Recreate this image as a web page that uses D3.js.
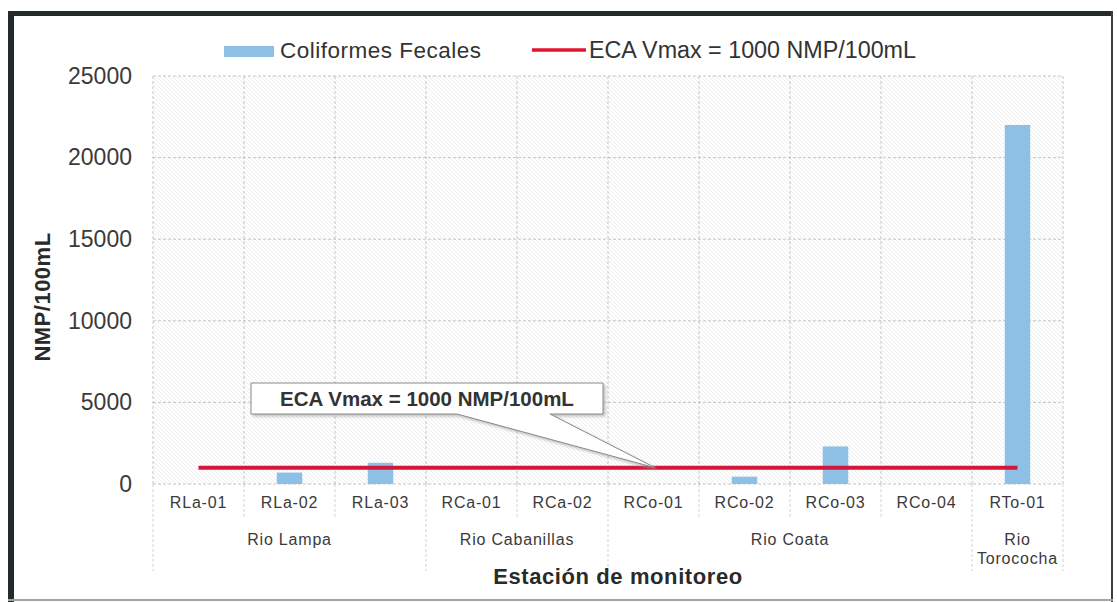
<!DOCTYPE html>
<html>
<head>
<meta charset="utf-8">
<script src="https://cdn.jsdelivr.net/npm/d3@7"></script>
<style>
  body { margin: 0; background: #fff; }
  svg text { font-family: "Liberation Sans", Arial, sans-serif; }
</style>
</head>
<body>
<div id="d3-container"></div>
<script>
// data
const stations = ["RLa-01", "RLa-02", "RLa-03", "RCa-01", "RCa-02", "RCo-01", "RCo-02", "RCo-03", "RCo-04", "RTo-01"];
const rivers = ["Rio Lampa", "Rio Lampa", "Rio Lampa", "Rio Cabanillas", "Rio Cabanillas", "Rio Coata", "Rio Coata", "Rio Coata", "Rio Coata", "Rio Torococha"];
const coliformes = [0, 700, 1300, 0, 0, 0, 450, 2300, 0, 22000];
const ecaLimit = 1000;
const yTicks = [0, 5000, 10000, 15000, 20000, 25000];

const data = stations.map((s, i) => ({ station: s, river: rivers[i], value: coliformes[i] }));

const width = 1117,
    height = 602,
    margin = { top: 76, bottom: 118, left: 153, right: 54 };

const xScale = d3
    .scaleBand()
    .domain(stations)
    .range([margin.left, width - margin.right])
    .padding(0);

const yScale = d3
    .scaleLinear()
    .domain([0, 25000])
    .range([height - margin.bottom, margin.top]);

const svg = d3
    .select("#d3-container")
    .append("svg")
    .attr("width", width)
    .attr("height", height);

// hatch pattern for the plot area
const defs = svg.append("defs");
const pat = defs.append("pattern")
    .attr("id", "hatch")
    .attr("patternUnits", "userSpaceOnUse")
    .attr("width", 4)
    .attr("height", 4);
pat.append("path")
    .attr("d", "M0,0 L4,4 M-1,3 L1,5 M3,-1 L5,1")
    .attr("stroke", "#e0e0e0")
    .attr("stroke-width", 0.6);

const shadow = defs.append("filter").attr("id", "shadow").attr("x", "-10%").attr("y", "-30%").attr("width", "130%").attr("height", "180%");
shadow.append("feDropShadow").attr("dx", 2).attr("dy", 2).attr("stdDeviation", 1.5).attr("flood-color", "#999").attr("flood-opacity", 0.6);

// frame
svg.append("rect").attr("x", 8).attr("y", 11).attr("width", 1104).attr("height", 587).attr("fill", "#fff");
svg.append("rect").attr("x", 8).attr("y", 11).attr("width", 1104).attr("height", 5).attr("fill", "#232a2c");
svg.append("rect").attr("x", 8).attr("y", 11).attr("width", 6).attr("height", 591).attr("fill", "#232a2c");
svg.append("rect").attr("x", 1111).attr("y", 11).attr("width", 2).attr("height", 591).attr("fill", "#3a3f40");
svg.append("rect").attr("x", 8).attr("y", 599).attr("width", 1105).attr("height", 2).attr("fill", "#a5a5a5");

const plotLeft = margin.left, plotRight = width - margin.right;
const plotTop = yScale(25000), plotBottom = yScale(0);

svg.append("rect")
    .attr("x", plotLeft)
    .attr("y", plotTop)
    .attr("width", plotRight - plotLeft)
    .attr("height", plotBottom - plotTop)
    .attr("fill", "url(#hatch)");

// gridlines
svg.append("g")
    .selectAll("line")
    .data(yTicks)
    .join("line")
    .attr("x1", plotLeft)
    .attr("x2", plotRight)
    .attr("y1", d => yScale(d))
    .attr("y2", d => yScale(d))
    .attr("stroke", "#b8b8b8")
    .attr("stroke-dasharray", "3,2")
    .attr("stroke-width", 0.8);

const bounds = stations.map(s => xScale(s)).concat([plotRight]);
svg.append("g")
    .selectAll("line")
    .data(bounds)
    .join("line")
    .attr("x1", d => d)
    .attr("x2", d => d)
    .attr("y1", plotTop)
    .attr("y2", plotBottom)
    .attr("stroke", "#b8b8b8")
    .attr("stroke-dasharray", "3,2")
    .attr("stroke-width", 0.8);

// bars
const barW = xScale.bandwidth() * 0.28;
svg.append("g")
    .selectAll("rect")
    .data(data)
    .join("rect")
    .attr("x", d => xScale(d.station) + (xScale.bandwidth() - barW) / 2)
    .attr("y", d => yScale(d.value))
    .attr("width", barW)
    .attr("height", d => yScale(0) - yScale(d.value))
    .attr("fill", "#8dc0e4");

// ECA limit line
const limitLine = d3.line()
    .x(d => xScale(d) + xScale.bandwidth() / 2)
    .y(() => yScale(ecaLimit));
svg.append("path")
    .datum([stations[0], stations[stations.length - 1]])
    .attr("d", limitLine)
    .attr("stroke", "#d2173a")
    .attr("stroke-width", 4)
    .attr("fill", "none");

// y axis
const yAxis = d3.axisLeft(yScale).tickValues(yTicks).tickFormat(d3.format("d")).tickSize(0).tickPadding(21);
svg.append("g")
    .attr("transform", `translate(${plotLeft},0)`)
    .call(yAxis)
    .call(g => g.select(".domain").remove())
    .call(g => g.selectAll("text")
        .attr("font-size", 23)
        .attr("fill", "#3a3a3a")
        .attr("font-family", "Liberation Sans, Arial, sans-serif"));

svg.append("text")
    .attr("transform", `translate(50,${297}) rotate(-90)`)
    .attr("text-anchor", "middle")
    .attr("font-size", 22)
    .attr("font-weight", "bold")
    .attr("letter-spacing", 0.5)
    .attr("fill", "#2a2a2a")
    .text("NMP/100mL");

// x axis: station labels
const xAxis = d3.axisBottom(xScale).tickSize(0).tickPadding(13);
svg.append("g")
    .attr("transform", `translate(0,${plotBottom})`)
    .call(xAxis)
    .call(g => g.select(".domain").remove())
    .call(g => g.selectAll("text")
        .attr("font-size", 16)
        .attr("letter-spacing", 0.8)
        .attr("fill", "#3a3a3a")
        .attr("font-family", "Liberation Sans, Arial, sans-serif"));

// group boundaries
const groups = [];
rivers.forEach((r, i) => {
    if (!groups.length || groups[groups.length - 1].name !== r) groups.push({ name: r, start: stations[i], end: stations[i] });
    else groups[groups.length - 1].end = stations[i];
});

const groupEdges = new Set(groups.map(g => xScale(g.start)).concat([plotRight]));
svg.append("g")
    .selectAll("line")
    .data(bounds)
    .join("line")
    .attr("x1", d => d)
    .attr("x2", d => d)
    .attr("y1", plotBottom)
    .attr("y2", d => groupEdges.has(d) ? 571 : 518)
    .attr("stroke", "#c8c8c8")
    .attr("stroke-dasharray", "3,2")
    .attr("stroke-width", 0.8);

svg.append("g")
    .selectAll("text")
    .data(groups)
    .join("text")
    .attr("x", d => (xScale(d.start) + xScale(d.end) + xScale.bandwidth()) / 2)
    .attr("y", 545)
    .attr("text-anchor", "middle")
    .attr("font-size", 16)
    .attr("letter-spacing", 0.8)
    .attr("fill", "#3a3a3a")
    .each(function (d) {
        const t = d3.select(this);
        const x = t.attr("x");
        if (d.start === d.end) {
            const parts = d.name.split(" ");
            parts.forEach((p, k) => t.append("tspan").attr("x", x).attr("dy", k ? 19 : 0).text(p));
        } else {
            t.text(d.name);
        }
    });

svg.append("text")
    .attr("x", 618)
    .attr("y", 584)
    .attr("text-anchor", "middle")
    .attr("font-size", 22)
    .attr("font-weight", "bold")
    .attr("letter-spacing", 0.6)
    .attr("fill", "#2a2a2a")
    .text("Estación de monitoreo");

// callout
const tipX = 655, tipY = yScale(ecaLimit);
const box = { x: 251, y: 383, w: 352, h: 31 };
svg.append("path")
    .attr("d", `M${box.x},${box.y} H${box.x + box.w} V${box.y + box.h} H550 L${tipX},${tipY} L457,${box.y + box.h} H${box.x} Z`)
    .attr("fill", "#fff")
    .attr("stroke", "#8a8a8a")
    .attr("stroke-width", 1)
    .attr("filter", "url(#shadow)");
svg.append("text")
    .attr("x", box.x + box.w / 2)
    .attr("y", box.y + 23)
    .attr("text-anchor", "middle")
    .attr("font-size", 20.5)
    .attr("font-weight", "bold")
    .attr("fill", "#333")
    .text("ECA Vmax = 1000 NMP/100mL");

// legend
const legend = svg.append("g");
legend.append("rect").attr("x", 224).attr("y", 46).attr("width", 50).attr("height", 11).attr("fill", "#8dc0e4");
legend.append("text").attr("x", 280).attr("y", 58).attr("font-size", 22.5).attr("letter-spacing", 0.5).attr("fill", "#333").text("Coliformes Fecales");
legend.append("line").attr("x1", 532).attr("x2", 586).attr("y1", 50).attr("y2", 50).attr("stroke", "#e3142f").attr("stroke-width", 3.5);
legend.append("text").attr("x", 589).attr("y", 58).attr("font-size", 23.3).attr("fill", "#333").text("ECA Vmax = 1000 NMP/100mL");
</script>
</body>
</html>
